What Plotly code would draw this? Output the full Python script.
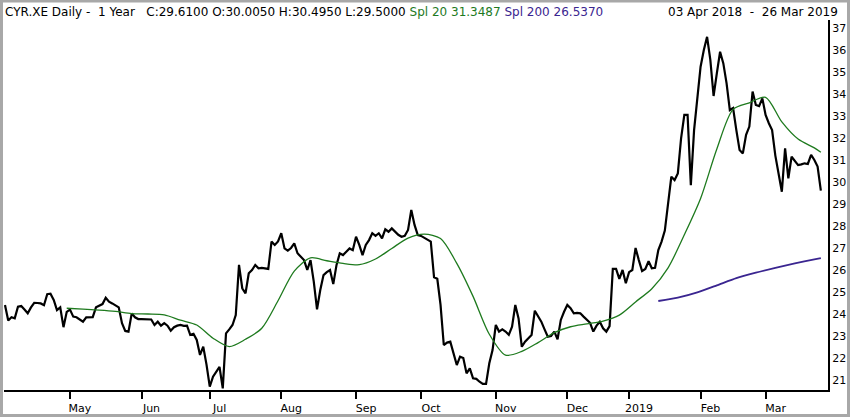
import pandas as pd
import plotly.graph_objects as go

# sesiones de negociación (Xetra) del 03-04-2018 al 26-03-2019
feriados = ['2018-05-01', '2018-12-25', '2018-12-26', '2019-01-01']
dias = pd.bdate_range('2018-04-03', '2019-03-26')
dias = dias[~dias.isin(pd.to_datetime(feriados))]
fechas = dias.strftime('%Y-%m-%d').tolist()

# cierres diarios
cierre = [
    24.41, 23.7, 23.85, 23.8, 24.33, 24.36, 24.2, 24.03, 24.3, 24.51,
    24.5, 24.48, 24.4, 24.9, 24.92, 24.64, 24.18, 24.3, 23.4, 24.1,
    24.2, 23.88, 23.85, 23.75, 23.65, 23.85, 23.85, 23.86, 24.3, 24.38,
    24.45, 24.74, 24.56, 24.48, 24.4, 24.3, 23.58, 23.23, 23.2, 24.03,
    23.85, 23.77, 23.77, 23.76, 23.77, 23.75, 23.5, 23.65, 23.47, 23.58,
    23.47, 23.24, 23.4, 23.47, 23.5, 23.46, 23.47, 23.05, 23.1, 22.82,
    22.14, 22.51, 21.7, 20.7, 21.15, 21.4, 21.6, 20.62, 23.12, 23.3,
    23.5, 23.95, 26.23, 25.17, 24.94, 25.85, 26.0, 26.23, 26.08, 26.1,
    26.08, 26.05, 27.29, 27.14, 27.3, 27.67, 26.98, 26.88, 27.0, 27.21,
    26.76, 26.6, 26.45, 26.0, 26.45, 25.47, 24.21, 25.09, 25.77, 25.9,
    26.0, 25.36, 26.23, 26.76, 26.68, 26.83, 26.98, 26.9, 27.51, 27.14,
    26.68, 27.14, 27.36, 27.67, 27.55, 27.67, 27.44, 27.85, 27.74, 27.89,
    27.74, 27.6, 27.51, 27.55, 27.82, 28.73, 28.05, 27.59, 27.55, 27.45,
    27.36, 27.29, 25.67, 25.6, 24.41, 22.59, 22.7, 22.74, 22.21, 21.68,
    22.06, 22.0, 21.3, 21.53, 21.08, 21.05, 20.92, 20.82, 20.82, 21.76,
    22.36, 23.5, 23.2, 23.3, 23.2, 23.05, 23.42, 24.41, 23.8, 22.51,
    22.74, 22.9, 23.05, 24.15, 23.88, 23.65, 23.3, 22.97, 23.0, 23.2,
    22.85, 23.73, 24.1, 24.41, 24.26, 24.03, 24.05, 24.03, 23.88, 23.73,
    23.6, 23.2, 23.47, 23.65, 23.35, 23.2, 23.45, 26.05, 26.05, 25.6,
    26.0, 25.4, 25.9, 26.0, 27.0, 26.45, 25.95, 26.05, 26.4, 26.08,
    26.1, 26.91, 27.29, 27.79, 29.11, 30.24, 30.09, 30.39, 31.98, 33.05,
    33.05, 29.86, 32.36, 33.88, 35.24, 36.0, 36.6, 35.55, 33.91, 34.94,
    35.92, 35.39, 34.48, 33.27, 33.36, 32.36, 31.45, 31.3, 32.14, 32.52,
    34.11, 33.5, 33.45, 33.8, 33.05, 32.67, 32.36, 31.2, 30.4, 29.56,
    31.53, 30.17, 31.15, 30.93, 30.77, 30.8, 30.85, 30.82, 31.23, 31.0,
    30.7, 29.61,
]

# media simple 20 (un valor cada 5 sesiones desde la sesión 20, más el último)
spl20 = [
    24.26, 24.22, 24.18, 24.12, 24.02, 24.0, 23.96, 23.72, 23.5, 22.9,
    22.52, 22.85, 23.35, 24.6, 25.95, 26.55, 26.42, 26.3, 26.24, 26.5,
    26.98, 27.45, 27.63, 27.43, 26.3, 24.8, 23.08, 22.13, 22.3, 22.7,
    23.15, 23.42, 23.55, 23.68, 23.95, 24.55, 25.15, 26.1, 27.6, 29.25,
    31.5, 33.3, 33.6, 33.85, 32.73, 31.95, 31.55, 31.35,
]

# media simple 200 (un valor cada 6 sesiones, más el último)
spl200 = [24.59, 24.74, 24.98, 25.3, 25.63, 25.88, 26.1, 26.3, 26.48, 26.54]

meses = ['May', 'Jun', 'Jul', 'Aug', 'Sep', 'Oct', 'Nov', 'Dec', '2019', 'Feb', 'Mar']
niveles = list(range(21, 38))

fechas_spl20 = fechas[19::5] + [fechas[-1]]
fechas_spl200 = fechas[201::6] + [fechas[-1]]

# primer día de negociación de cada mes (sin abril)
primeros = pd.Series(fechas, index=dias).groupby(dias.to_period('M')).first()
fechas_ticks = primeros.iloc[1:].tolist()

fig = go.Figure()

fig.add_trace(go.Scatter(
    x=fechas, y=cierre, mode='lines', name='CYR.XE',
    line=dict(color='black', width=2.2),
))
fig.add_trace(go.Scatter(
    x=fechas_spl20, y=spl20, mode='lines', name='Spl 20',
    line=dict(color='#1e7a1e', width=1.3, shape='spline', smoothing=0.8),
))
fig.add_trace(go.Scatter(
    x=fechas_spl200, y=spl200, mode='lines', name='Spl 200',
    line=dict(color='#3a2590', width=1.8, shape='spline', smoothing=0.6),
))

W, H = 850, 417
L, R, T, B = 4, 22, 20, 27
pw, ph = W - L - R, H - T - B

def px(xp):
    return (xp - L) / pw

def py(yp):
    return (H - B - yp) / ph

cabecera = (
    'CYR.XE Daily -&nbsp; 1 Year&nbsp;&nbsp; C:29.6100 O:30.0050 H:30.4950 L:29.5000 '
    '<span style="color:#1e7a1e">Spl 20 31.3487</span> '
    '<span style="color:#3a2590">Spl 200 26.5370</span>'
)

fig.update_layout(
    width=W, height=H,
    margin=dict(l=L, r=R, t=T, b=B),
    paper_bgcolor='white', plot_bgcolor='white',
    showlegend=False,
    font=dict(family='DejaVu Sans', size=11, color='black'),
    xaxis=dict(
        type='category', categoryorder='array', categoryarray=fechas,
        range=[-0.3, 253.2],
        tickvals=fechas_ticks, ticktext=meses,
        ticks='outside', ticklen=7, tickwidth=1.5, tickcolor='black',
        ticklabelshift=10,
        showline=True, linewidth=2, linecolor='black',
        showgrid=False, zeroline=False, automargin=False,
    ),
    yaxis=dict(
        side='right', range=[20.545, 37.364],
        tickvals=niveles, ticks='',
        showline=True, linewidth=2, linecolor='black',
        showgrid=False, zeroline=False, automargin=False,
    ),
    annotations=[
        dict(text=cabecera, x=px(3), y=py(12), xref='paper', yref='paper',
             xanchor='left', yanchor='middle', showarrow=False,
             font=dict(family='DejaVu Sans', size=12, color='black')),
        dict(text='03 Apr 2018&nbsp; - &nbsp;26 Mar 2019', x=px(840), y=py(12),
             xref='paper', yref='paper', xanchor='right', yanchor='middle',
             showarrow=False, font=dict(family='DejaVu Sans', size=12, color='black')),
    ],
    shapes=[
        dict(type='rect', xref='paper', yref='paper',
             x0=px(1.5), x1=px(848.5), y0=py(415.5), y1=py(1),
             line=dict(color='#a8a8a8', width=3)),
    ],
)

# quitar el margen por defecto del <body> para que la figura ocupe la ventana
fig.write_html("out.html", config={'displayModeBar': False},
               post_script="document.body.style.margin='0';")
